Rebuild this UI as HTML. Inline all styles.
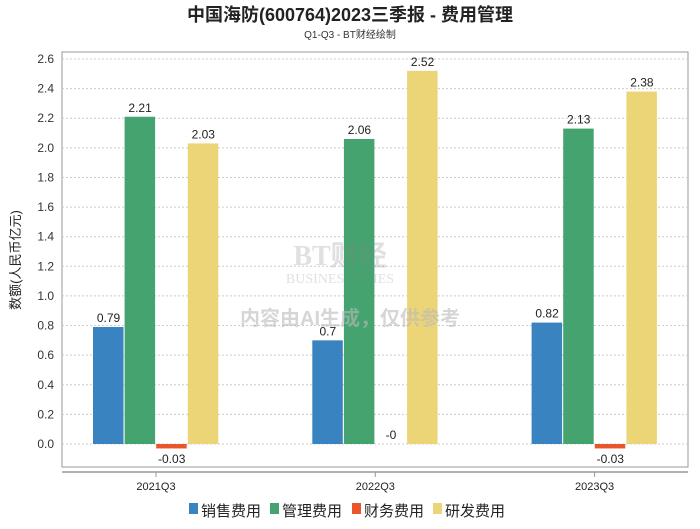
<!DOCTYPE html>
<html><head><meta charset="utf-8"><style>
body{margin:0;background:#fff;width:700px;height:524px;overflow:hidden;font-family:"Liberation Sans","Noto Sans CJK SC",sans-serif}
</style></head><body>
<svg id="c" width="700" height="524" xmlns="http://www.w3.org/2000/svg" font-family="'Liberation Sans','Noto Sans CJK SC',sans-serif">
<text x="350" y="21" text-anchor="middle" font-size="18" font-weight="bold" fill="#222">中国海防(600764)2023三季报 - 费用管理</text>
<text x="350" y="38" text-anchor="middle" font-size="10" fill="#333">Q1-Q3 - BT财经绘制</text>
<rect x="62" y="52" width="626" height="415" fill="none" stroke="#999"/>
<line x1="62" y1="472" x2="688" y2="472" stroke="#999" stroke-width="1.5"/>
<text x="20" y="260" transform="rotate(-90 20 260)" text-anchor="middle" font-size="13" fill="#222">数额(人民币亿元)</text>
<g id="grid"></g><g id="bars"></g>
<g opacity="0.25">
<text x="340" y="265" text-anchor="middle" font-size="28" font-family="'Liberation Serif',serif" font-weight="bold" fill="#888">BT财经</text>
<text x="340" y="283" text-anchor="middle" font-size="14" font-family="'Liberation Serif',serif" fill="#888">BUSINESSTIMES</text>
</g>
<text x="350" y="325" text-anchor="middle" font-size="20" font-weight="bold" fill="#bbb" opacity="0.6">内容由AI生成，仅供参考</text>
<g font-size="15" fill="#222">
<rect x="189" y="503" width="9" height="11" fill="#3a83c1"/><text x="201" y="516">销售费用</text>
<rect x="270" y="503" width="9" height="11" fill="#44a36f"/><text x="282" y="516">管理费用</text>
<rect x="352" y="503" width="9" height="11" fill="#e8572a"/><text x="364" y="516">财务费用</text>
<rect x="433" y="503" width="9" height="11" fill="#ecd576"/><text x="445" y="516">研发费用</text>
</g>
</svg>
<script>
const categories=["2021Q3","2022Q3","2023Q3"];
const sales=[0.79,0.7,0.82];
const admin=[2.21,2.06,2.13];
const finance=[-0.03,0,-0.03];
const rd=[2.03,2.52,2.38];
const labelsFinance=["-0.03","-0","-0.03"];
const yTicks=[0,0.2,0.4,0.6,0.8,1.0,1.2,1.4,1.6,1.8,2.0,2.2,2.4,2.6];
const NS="http://www.w3.org/2000/svg";
const y=v=>444-v*(385/2.6);
const x=i=>156+i*219.3;
function mk(t,a,p){const e=document.createElementNS(NS,t);for(const k in a)e.setAttribute(k,a[k]);p.appendChild(e);return e;}
const g=document.getElementById('grid'),b=document.getElementById('bars');
yTicks.forEach(v=>{
 const l=mk('line',{x1:62,x2:688,y1:y(v),y2:y(v),stroke:'#ccc','stroke-dasharray':'2,2'},g);
 
 
 const t=mk('text',{x:54,y:y(v)+4,'text-anchor':'end','font-size':12,fill:'#333'},g);
 t.textContent=v.toFixed(1);
 
 
});
const series=[[sales,'#3a83c1','sales'],[admin,'#44a36f','admin'],[finance,'#e8572a','finance'],[rd,'#ecd576','rd']];
categories.forEach((c,i)=>{
 const tk=mk('line',{x1:x(i),x2:x(i),y1:472,y2:477,stroke:'#999'},g);
 
 
 const t=mk('text',{x:x(i),y:490,'text-anchor':'middle','font-size':11,fill:'#222'},g);
 t.textContent=c;
 
 
 series.forEach(([arr,col,nm],j)=>{
  const v=arr[i];const x0=x(i)-63+j*31.6;
  const top=Math.min(y(v),y(0)),h=Math.max(Math.abs(y(v)-y(0)),v===0?0:1);
  const r=mk('rect',{x:x0,y:top,width:30.5,height:h,fill:col},b);
  
  
  const lab=mk('text',{x:x0+15.5,'text-anchor':'middle','font-size':12,fill:'#222'},b);
  if(v<0)lab.setAttribute('y',y(0)+19);
  else lab.setAttribute('y',y(v)-5);
  lab.textContent=nm==='finance'?labelsFinance[i]:String(v);
  
  
 });
});
</script>
</body></html>
